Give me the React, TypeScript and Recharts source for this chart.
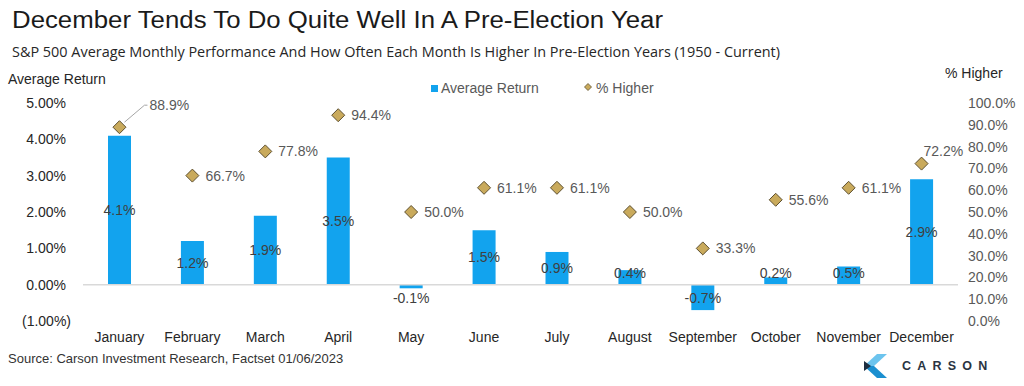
import React from "react";
import {
  ComposedChart,
  Bar,
  Scatter,
  XAxis,
  YAxis,
  ReferenceLine,
  LabelList,
} from "recharts";

const months = [
  "January", "February", "March", "April", "May", "June",
  "July", "August", "September", "October", "November", "December",
];
const avgReturn = [4.1, 1.2, 1.9, 3.5, -0.1, 1.5, 0.9, 0.4, -0.7, 0.2, 0.5, 2.9];
const pctHigher = [88.9, 66.7, 77.8, 94.4, 50.0, 61.1, 61.1, 50.0, 33.3, 55.6, 61.1, 72.2];
const leftTicks = [-1, 0, 1, 2, 3, 4, 5];
const rightTicks = [0, 10, 20, 30, 40, 50, 60, 70, 80, 90, 100];

const data = months.map((m, i) => ({ month: m, ret: avgReturn[i], higher: pctHigher[i] }));

const FONT = "'Liberation Sans', Arial, sans-serif";
const BLUE = "#12A3EE";
const GOLD = "#C9AA5C";
const GOLD_STROKE = "#5E5030";

const LeftTick = (props: any) => {
  const { x, y, payload } = props;
  const v = payload.value;
  const txt = v < 0 ? `(${Math.abs(v).toFixed(2)}%)` : `${v.toFixed(2)}%`;
  return (
    <text x={v < 0 ? x + 5 : x} y={y} dy="0.355em" textAnchor="end" fontSize={14} fontFamily={FONT} fill="#262626">
      {txt}
    </text>
  );
};

const RightTick = (props: any) => {
  const { x, y, payload } = props;
  return (
    <text x={x} y={y} dy="0.355em" textAnchor="start" fontSize={14} fontFamily={FONT} fill="#595959">
      {`${payload.value.toFixed(1)}%`}
    </text>
  );
};

const BarLabel = (props: any) => {
  const { x, y, width, height, value } = props;
  const top = Math.min(y, y + height);
  const bottom = Math.max(y, y + height);
  let cy = (top + bottom) / 2;
  if (value >= 0) cy = Math.min(cy, bottom - 12);
  else cy = Math.max(cy, top + 13);
  return (
    <text x={x + width / 2} y={cy} dy="0.355em" textAnchor="middle" fontSize={14} fontFamily={FONT} fill="#404040">
      {`${value.toFixed(1)}%`}
    </text>
  );
};

const Diamond = (props: any) => {
  const { cx, cy, payload } = props;
  if (cx == null || cy == null) return null;
  const r = 6.5;
  const label = `${payload.higher.toFixed(1)}%`;
  let lx = cx + 13;
  let ly = cy;
  let leader = null;
  if (payload.month === "January") {
    lx = cx + 30;
    ly = cy - 22;
    leader = (
      <polyline
        points={`${cx + 5},${cy - 5} ${cx + 25},${cy - 22} ${cx + 28},${cy - 22}`}
        fill="none"
        stroke="#a6a6a6"
        strokeWidth={1}
      />
    );
  } else if (payload.month === "December") {
    lx = cx + 2;
    ly = cy - 13;
  }
  return (
    <g>
      {leader}
      <polygon
        points={`${cx},${cy - r} ${cx + r},${cy} ${cx},${cy + r} ${cx - r},${cy}`}
        fill={GOLD}
        stroke={GOLD_STROKE}
        strokeWidth={1}
      />
      <text x={lx} y={ly} dy="0.355em" textAnchor="start" fontSize={14} fontFamily={FONT} fill="#595959">
        {label}
      </text>
    </g>
  );
};

export default function App() {
  return (
    <div style={{ position: "absolute", left: 0, top: 0, width: 1024, height: 386, background: "#fff", overflow: "hidden" }}>
      <ComposedChart
        width={1024}
        height={386}
        data={data}
        margin={{ top: 103, right: 10, bottom: 35, left: 23 }}
        style={{ position: "absolute", left: 0, top: 0 }}
      >
        <XAxis
          dataKey="month"
          interval={0}
          axisLine={false}
          tickLine={false}
          tickSize={0}
          tickMargin={11}
          height={30}
          tick={{ fontSize: 14, fontFamily: FONT, fill: "#262626" }}
        />
        <YAxis
          yAxisId="left"
          orientation="left"
          domain={[-1, 5]}
          ticks={leftTicks}
          interval={0}
          width={60}
          axisLine={false}
          tickLine={false}
          tickSize={0}
          tickMargin={17}
          tick={<LeftTick />}
        />
        <YAxis
          yAxisId="right"
          orientation="right"
          domain={[0, 100]}
          ticks={rightTicks}
          interval={0}
          width={56}
          axisLine={false}
          tickLine={false}
          tickSize={0}
          tickMargin={10}
          tick={<RightTick />}
        />
        <ReferenceLine yAxisId="left" y={0} stroke="#d9d9d9" strokeWidth={1.5} />
        <Bar yAxisId="left" dataKey="ret" fill={BLUE} barSize={23} isAnimationActive={false}>
          <LabelList dataKey="ret" content={<BarLabel />} />
        </Bar>
        <Scatter yAxisId="right" dataKey="higher" shape={<Diamond />} isAnimationActive={false} />
      </ComposedChart>
      <svg width={1024} height={386} style={{ position: "absolute", left: 0, top: 0, pointerEvents: "none" }}>
        <text x={12} y={28} fontSize={23} fontFamily={FONT} fill="#1a1a1a" textLength={651} lengthAdjust="spacingAndGlyphs">
          December Tends To Do Quite Well In A Pre-Election Year
        </text>
        <text x={12} y={57} fontSize={14.2} fontFamily="'Open Sans', sans-serif" fill="#262626" textLength={768} lengthAdjust="spacingAndGlyphs">
          S&amp;P 500 Average Monthly Performance And How Often Each Month Is Higher In Pre-Election Years (1950 - Current)
        </text>
        <text x={8} y={84} fontSize={14} fontFamily={FONT} fill="#262626">
          Average Return
        </text>
        <text x={945} y={78} fontSize={14} fontFamily={FONT} fill="#262626">
          % Higher
        </text>
        <rect x={431} y={85} width={7} height={7} fill={BLUE} />
        <text x={441} y={88} dy="0.355em" fontSize={14} fontFamily={FONT} fill="#595959">
          Average Return
        </text>
        <polygon points="588,83.5 591.5,87 588,90.5 584.5,87" fill={GOLD} stroke={GOLD_STROKE} strokeWidth={0.8} />
        <text x={596} y={88} dy="0.355em" fontSize={14} fontFamily={FONT} fill="#595959">
          % Higher
        </text>
        <text x={8} y={363} fontSize={13} fontFamily={FONT} fill="#333333">
          Source: Carson Investment Research, Factset 01/06/2023
        </text>
        <polygon points="887,354 874,366 864,366 877,354" fill="#6CC4EE" />
        <polygon points="864,366 874,366 887,378 877,378" fill="#1B8FD0" />
        <polygon points="864,361 871,366 864,371" fill="#1E2E40" />
        <text x={902} y={370} fontSize={12.5} fontFamily={FONT} fontWeight={700} letterSpacing={6.2} fill="#2A3442">
          CARSON
        </text>
      </svg>
    </div>
  );
}
